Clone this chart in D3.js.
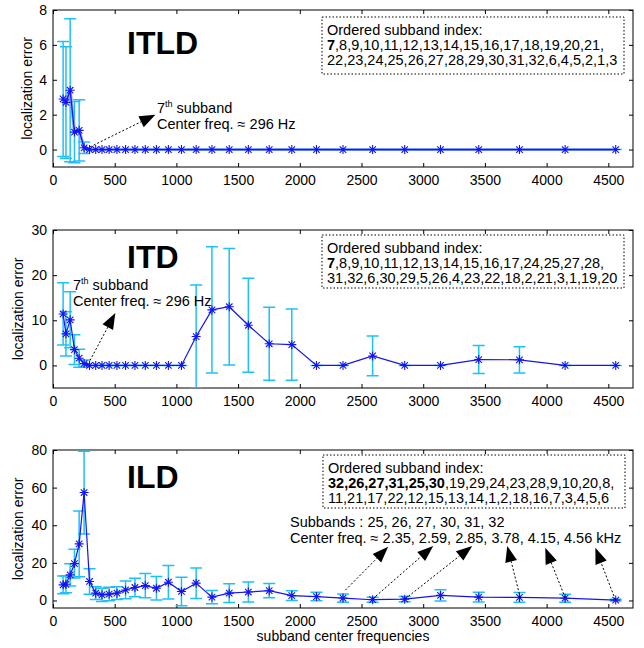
<!DOCTYPE html>
<html>
<head>
<meta charset="utf-8">
<script src="https://cdn.jsdelivr.net/npm/d3@7"></script>
<style>
  body { margin: 0; background: #fff; }
  svg { display: block; font-family: "Liberation Sans", Arial, sans-serif; }
</style>
</head>
<body>
<svg id="chart" width="644" height="648"></svg>
<script>
// subband center frequencies (Hz), 32 channels
const freqs = [82, 105, 139, 174, 212, 252, 296, 346, 397, 455, 518, 588, 664, 748, 838, 935,
  1041, 1160, 1288, 1428, 1583, 1752, 1935, 2135, 2350, 2590, 2850, 3140, 3450, 3780, 4150, 4560];

// ITLD: mean localization error and std
const itldMean = [2.9, 2.7, 3.4, 1.0, 1.1, 0.1, 0, 0, 0, 0, 0, 0, 0, 0, 0, 0,
  0, 0, 0, 0, 0, 0, 0, 0, 0, 0, 0, 0, 0, 0, 0, 0];
const itldStd = [3.3, 3.2, 4.1, 1.75, 1.75, 0.33, 0, 0, 0, 0, 0, 0, 0, 0, 0, 0,
  0, 0, 0, 0, 0, 0, 0, 0, 0, 0, 0, 0, 0, 0, 0, 0];

// ITD
const itdMean = [11.4, 7.0, 10.1, 3.5, 1.6, 0.4, 0, 0, 0, 0, 0, 0, 0, 0, 0, 0,
  0, 6.4, 12.3, 13.0, 8.9, 4.8, 4.6, 0, 0, 2.1, 0, 0, 1.3, 1.25, 0, 0];
const itdStd = [6.9, 4.9, 6.2, 3.3, 2.0, 0.8, 0, 0, 0, 0, 0, 0, 0, 0, 0, 0,
  0, 11.4, 14.0, 12.9, 10.4, 8.1, 7.9, 0, 0, 4.4, 0, 0, 3.1, 2.9, 0, 0];

// ILD
const ildMean = [8.3, 8.6, 13.6, 19.6, 30.1, 57.4, 10.1, 3.9, 3.0, 3.4, 3.9, 5.6, 6.9, 7.9, 6.5, 9.7,
  4.8, 9.2, 1.8, 3.9, 4.5, 5.2, 2.6, 2.1, 1.3, 0.4, 0.7, 2.7, 1.8, 1.6, 1.2, 0.2];
const ildStd = [4.7, 4.5, 5.9, 7.7, 17.5, 22.0, 6.8, 3.4, 3.5, 3.6, 3.4, 4.7, 4.9, 6.4, 6.2, 8.9,
  7.6, 8.1, 3.5, 5.0, 5.3, 3.8, 2.6, 2.3, 2.2, 1.3, 1.4, 3.0, 2.6, 2.6, 2.1, 0.5];

// tick labels
const xTicks = [0, 500, 1000, 1500, 2000, 2500, 3000, 3500, 4000, 4500];
const itldTicks = [0, 2, 4, 6, 8];
const itdTicks = [0, 10, 20, 30];
const ildTicks = [0, 20, 40, 60, 80];

// legend texts: each line is a list of [bold, text] pieces
const itldOrder = [
  [[false, 'Ordered subband index:']],
  [[true, '7'], [false, ',8,9,10,11,12,13,14,15,16,17,18,19,20,21,']],
  [[false, '22,23,24,25,26,27,28,29,30,31,32,6,4,5,2,1,3']]
];
const itdOrder = [
  [[false, 'Ordered subband index:']],
  [[true, '7'], [false, ',8,9,10,11,12,13,14,15,16,17,24,25,27,28,']],
  [[false, '31,32,6,30,29,5,26,4,23,22,18,2,21,3,1,19,20']]
];
const ildOrder = [
  [[false, 'Ordered subband index:']],
  [[true, '32,26,27,31,25,30'], [false, ',19,29,24,23,28,9,10,20,8,']],
  [[false, '11,21,17,22,12,15,13,14,1,2,18,16,7,3,4,5,6']]
];

// annotation arrows in data units: [fromFreq, fromVal, tipFreq, tipVal]
const itldArrows = [[300, 0.15, 830, 2.0]];
const itdArrows = [[300, 1.1, 505, 11.6]];
const ildArrows = [
  [2370, 5.5, 2716, 28.5],
  [2592, 0.9, 3081, 29],
  [2854, 0.9, 3397, 29],
  [3787, 1.4, 3681, 29],
  [4151, 1.4, 3989, 28],
  [4557, 0.4, 4395, 28]
];

const COLORS = {
  line: '#1414f0',
  err: '#1ec0fa',
  text: '#000'
};

const svg = d3.select('#chart');
const plotLeft = 53, plotRight = 633;
const x = d3.scaleLinear().domain([0, 4700]).range([plotLeft, plotRight]);

const panels = [
  { key: 'itld', title: 'ITLD', mean: itldMean, std: itldStd, yDomain: [-1, 8], yTicks: itldTicks,
    top: 10, bottom: 167, ylabX: 27, under: true,
    order: itldOrder, box: [322, 17, 302, 57], arrows: itldArrows,
    note: { x: 157, y: 113, lines: ['subband', 'Center freq. \u2248 296 Hz'], sup: true } },
  { key: 'itd', title: 'ITD', mean: itdMean, std: itdStd, yDomain: [-5, 30], yTicks: itdTicks,
    top: 230, bottom: 388, ylabX: 18, under: false,
    order: itdOrder, box: [322, 235, 302, 53], arrows: itdArrows,
    note: { x: 73, y: 290, lines: ['subband', 'Center freq. \u2248 296 Hz'], sup: true } },
  { key: 'ild', title: 'ILD', mean: ildMean, std: ildStd, yDomain: [-4, 80], yTicks: ildTicks,
    top: 450, bottom: 608, ylabX: 18, under: false,
    order: ildOrder, box: [323, 455, 302, 53], arrows: ildArrows,
    note: { x: 290, y: 527, lines: ['Subbands : 25, 26, 27, 30, 31, 32',
      'Center freq. \u2248 2.35, 2.59, 2.85, 3.78, 4.15, 4.56 kHz'], sup: false } }
];

function starPath(r) {
  const d = r * 0.72;
  return `M${-r},0H${r}M0,${-r}V${r}M${-d},${-d}L${d},${d}M${-d},${d}L${d},${-d}`;
}

const fmt = d3.format('d');

panels.forEach((p, pi) => {
  const y = d3.scaleLinear().domain(p.yDomain).range([p.bottom, p.top]);
  const g = svg.append('g').attr('class', 'panel-' + p.key);
  const data = freqs.map((f, i) => ({ f, m: p.mean[i], s: p.std[i] }));

  // clip to the axes box
  svg.append('clipPath').attr('id', 'clip-' + p.key)
    .append('rect')
    .attr('x', plotLeft).attr('y', p.top)
    .attr('width', plotRight - plotLeft).attr('height', p.bottom - p.top);

  // axes: ticks pointing inward on all four sides
  g.append('g')
    .attr('transform', `translate(0,${p.bottom})`)
    .call(d3.axisBottom(x).tickValues(xTicks).tickFormat(fmt).tickSize(-4).tickPadding(8))
    .call(a => a.select('.domain').remove());
  g.append('g')
    .attr('transform', `translate(0,${p.top})`)
    .call(d3.axisTop(x).tickValues(xTicks).tickSize(-4).tickFormat(''))
    .call(a => a.select('.domain').remove());
  g.append('g')
    .attr('transform', `translate(${plotLeft},0)`)
    .call(d3.axisLeft(y).tickValues(p.yTicks).tickFormat(fmt).tickSize(-4).tickPadding(6))
    .call(a => a.select('.domain').remove());
  g.append('g')
    .attr('transform', `translate(${plotRight},0)`)
    .call(d3.axisRight(y).tickValues(p.yTicks).tickSize(-4).tickFormat(''))
    .call(a => a.select('.domain').remove());
  g.selectAll('.tick line').attr('stroke', '#000');
  g.selectAll('.tick text')
    .attr('font-size', 14)
    .attr('font-family', '"Liberation Sans", Arial, sans-serif')
    .attr('fill', COLORS.text);

  g.append('rect')
    .attr('x', plotLeft).attr('y', p.top)
    .attr('width', plotRight - plotLeft).attr('height', p.bottom - p.top)
    .attr('fill', 'none').attr('stroke', '#000').attr('stroke-width', 1);

  // y label
  const cy = (p.top + p.bottom) / 2;
  g.append('text')
    .attr('transform', `translate(${p.ylabX},${cy}) rotate(-90)`)
    .attr('text-anchor', 'middle')
    .attr('dy', '0.35em')
    .attr('font-size', 14)
    .text('localization error');

  // data layer
  const dl = g.append('g').attr('clip-path', `url(#clip-${p.key})`);

  // error bars
  const cap = 6;
  const eb = dl.append('g')
    .attr('stroke', COLORS.err)
    .attr('stroke-width', 1.5)
    .attr('fill', 'none');
  eb.selectAll('path')
    .data(data)
    .join('path')
    .attr('d', d => {
      const cx = x(d.f), y1 = y(d.m + d.s), y2 = y(d.m - d.s);
      return `M${cx},${y1}V${y2}M${cx - cap},${y1}H${cx + cap}M${cx - cap},${y2}H${cx + cap}`;
    });

  const line = d3.line().x(d => x(d.f)).y(d => y(d.m));
  if (p.under) {
    dl.append('path')
      .datum(data)
      .attr('d', line)
      .attr('fill', 'none')
      .attr('stroke', '#7f9cff')
      .attr('stroke-width', 3);
  }
  dl.append('path')
    .datum(data)
    .attr('d', line)
    .attr('fill', 'none')
    .attr('stroke', COLORS.line)
    .attr('stroke-width', 1.2);

  // '*' markers
  dl.append('g')
    .selectAll('path')
    .data(data)
    .join('path')
    .attr('transform', d => `translate(${x(d.f)},${y(d.m)})`)
    .attr('d', starPath(4.5))
    .attr('stroke', COLORS.line)
    .attr('stroke-width', 1.1)
    .attr('fill', 'none');

  // big panel title
  g.append('text')
    .attr('x', 127)
    .attr('y', p.top + (pi === 0 ? 44 : 38))
    .attr('font-size', 32)
    .attr('font-weight', 'bold')
    .text(p.title);

  // ordered subband legend box
  const [bx, by, bw, bh] = p.box;
  g.append('rect')
    .attr('x', bx).attr('y', by).attr('width', bw).attr('height', bh)
    .attr('fill', '#fff')
    .attr('stroke', '#000')
    .attr('stroke-width', 1)
    .attr('stroke-dasharray', '1.5,2');
  p.order.forEach((ln, li) => {
    const t = g.append('text')
      .attr('x', bx + 5)
      .attr('y', by + 18 + li * 15)
      .attr('font-size', 14.5);
    ln.forEach(([b, s]) => {
      t.append('tspan').attr('font-weight', b ? 'bold' : null).text(s);
    });
  });

  // annotation text
  const n = p.note;
  n.lines.forEach((s, li) => {
    const t = g.append('text')
      .attr('x', n.x)
      .attr('y', n.y + li * 16)
      .attr('font-size', 14.5);
    if (n.sup && li === 0) {
      t.append('tspan').text('7');
      t.append('tspan').attr('font-size', 9).attr('dy', -6).text('th');
      t.append('tspan').attr('dy', 6).text(' ' + s);
    } else {
      t.text(s);
    }
  });

  // dotted arrows with filled heads
  const headLen = 16, headHalf = 6;
  p.arrows.forEach(([f0, v0, f1, v1]) => {
    const x0 = x(f0), y0 = y(v0), x1 = x(f1), y1 = y(v1);
    const ang = Math.atan2(y1 - y0, x1 - x0);
    const bxp = x1 - headLen * Math.cos(ang), byp = y1 - headLen * Math.sin(ang);
    g.append('line')
      .attr('x1', x0).attr('y1', y0).attr('x2', bxp).attr('y2', byp)
      .attr('stroke', '#000')
      .attr('stroke-width', 1)
      .attr('stroke-dasharray', '2,2');
    const px = -Math.sin(ang) * headHalf, py = Math.cos(ang) * headHalf;
    g.append('path')
      .attr('d', `M${x1},${y1}L${bxp + px},${byp + py}L${bxp - px},${byp - py}Z`)
      .attr('fill', '#000');
  });
});

// x axis title under the last panel
svg.append('text')
  .attr('x', (plotLeft + plotRight) / 2)
  .attr('y', 641)
  .attr('text-anchor', 'middle')
  .attr('font-size', 14)
  .text('subband center frequencies');
</script>
</body>
</html>
